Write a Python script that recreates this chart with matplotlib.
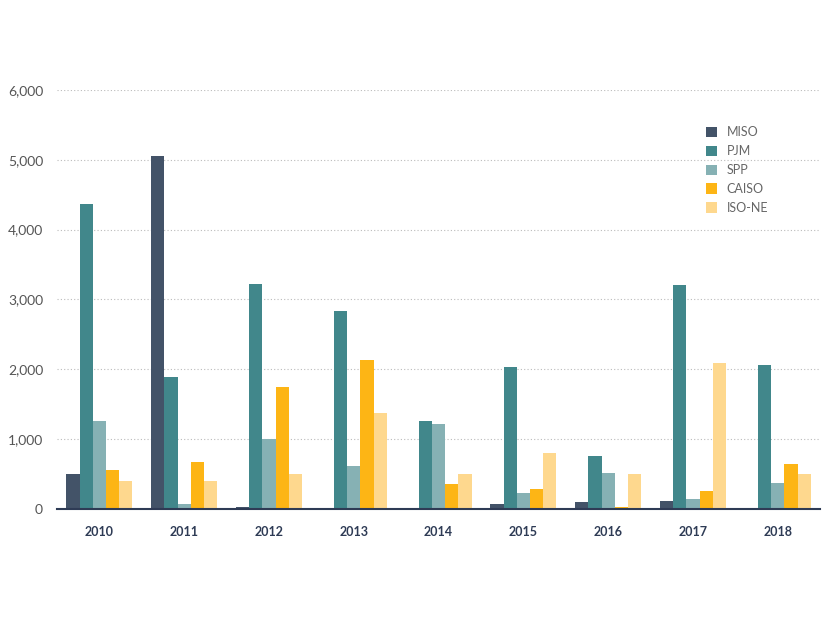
import numpy as np
import matplotlib.pyplot as plt

years = ['2010', '2011', '2012', '2013', '2014', '2015', '2016', '2017', '2018']
series = ['MISO', 'PJM', 'SPP', 'CAISO', 'ISO-NE']
miso = [500, 5050, 30, 0, 0, 65, 100, 115, 0]
pjm = [4360, 1890, 3225, 2840, 1265, 2040, 760, 3210, 2065]
spp = [1260, 75, 1000, 620, 1220, 235, 515, 140, 375]
caiso = [560, 675, 1740, 2140, 360, 280, 30, 260, 645]
isone = [400, 400, 500, 1380, 500, 800, 500, 2090, 500]
colors = ['#435368', '#41878B', '#86B1B4', '#FDB515', '#FED88E']

values = [miso, pjm, spp, caiso, isone]

fig = plt.figure(figsize=(8.26, 6.2), dpi=100)
ax = fig.add_axes([0.069, 0.179, 0.924, 0.676])

x = np.arange(len(years))
w = 0.156
for i, (name, vals) in enumerate(zip(series, values)):
    ax.bar(x + (i - 2) * w, vals, w, color=colors[i], label=name, zorder=3)

ax.set_xlim(-0.5, len(years) - 0.5)
ax.set_ylim(0, 6000)
ax.set_yticks(range(0, 6001, 1000))
ax.set_yticklabels([f'{v:,}' for v in range(0, 6001, 1000)],
                   fontsize=10, color='#555555', family='Lato')
ax.set_xticks(x)
ax.set_xticklabels(years, fontsize=9, fontweight='bold', color='#2E3B55', family='Lato')
ax.tick_params(axis='both', length=0)
ax.tick_params(axis='x', pad=12)
ax.tick_params(axis='y', pad=10)
ax.yaxis.grid(True, linestyle=(0, (1, 2)), color='#BBBBBB', linewidth=0.8, zorder=0)
for s in ['top', 'right', 'left']:
    ax.spines[s].set_visible(False)
ax.spines['bottom'].set_color('#2E3B55')
ax.spines['bottom'].set_linewidth(1.5)
ax.spines['bottom'].set_zorder(4)

leg = ax.legend(loc='upper left', bbox_to_anchor=(0.835, 0.94), frameon=False,
                prop={'family': 'Lato', 'size': 9}, handlelength=0.9, handleheight=0.9,
                handletextpad=0.8, labelspacing=0.55)
for t in leg.get_texts():
    t.set_color('#666666')

fig.savefig('out.png', dpi=100)
